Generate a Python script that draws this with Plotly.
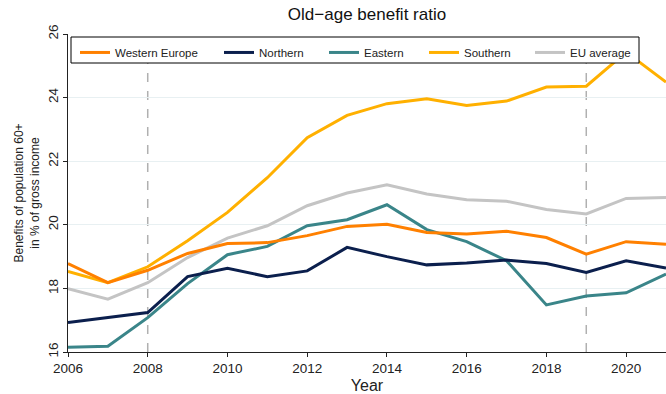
import plotly.graph_objects as go

years = list(range(2006, 2022))
western = [18.78, 18.18, 18.57, 19.10, 19.41, 19.44, 19.66, 19.95, 20.02, 19.76, 19.71, 19.80, 19.60, 19.08, 19.47, 19.39]
northern = [16.93, 17.09, 17.24, 18.37, 18.63, 18.37, 18.55, 19.29, 19.00, 18.74, 18.80, 18.89, 18.78, 18.50, 18.87, 18.64]
eastern = [16.15, 16.18, 17.08, 18.15, 19.06, 19.32, 19.97, 20.16, 20.63, 19.85, 19.47, 18.87, 17.48, 17.76, 17.86, 18.45]
southern = [18.53, 18.18, 18.68, 19.50, 20.39, 21.48, 22.74, 23.44, 23.81, 23.96, 23.75, 23.89, 24.33, 24.36, 25.43, 24.49]
eu_avg = [17.99, 17.66, 18.18, 18.97, 19.58, 19.97, 20.60, 21.00, 21.26, 20.97, 20.79, 20.74, 20.48, 20.34, 20.83, 20.86]

names = ["Western Europe", "Northern", "Eastern", "Southern", "EU average"]
values = [western, northern, eastern, southern, eu_avg]
colors = ["#ff8000", "#0b1f4d", "#3a8589", "#ffb000", "#c4c4c4"]
vlines = [2008, 2019]
x_ticks = list(range(2006, 2021, 2))
y_ticks = list(range(16, 27, 2))

# layout geometry (pixels)
W, H = 666, 394
L, R, T, B = 68, 0, 34, 42
pw, ph = W - L - R, H - T - B
legend_left_px = [75, 219, 324, 424, 530]
box_px = (71, 37, 639, 63)

def px_x(p):
    return (p - L) / pw

def px_y(p):
    return (H - B - p) / ph

font = "Liberation Sans, Arial, sans-serif"
fig = go.Figure()
order = list(range(len(names)))[::-1]  # draw EU average first, Western Europe on top
for i in order:
    lg = "legend" if i == 0 else f"legend{i + 1}"
    fig.add_trace(go.Scatter(x=years, y=values[i], mode="lines", name=names[i],
                             line=dict(color=colors[i], width=3), legend=lg))

for v in vlines:
    fig.add_vline(x=v, line=dict(color="#b0b0b0", width=1.5, dash="dash"), layer="below")

# legend frame
fig.add_shape(type="rect", xref="paper", yref="paper",
              x0=px_x(box_px[0]), x1=px_x(box_px[2]), y0=px_y(box_px[3]), y1=px_y(box_px[1]),
              fillcolor="white", line=dict(color="black", width=1), layer="above")

legend_common = dict(orientation="h", yanchor="top", xanchor="left", y=px_y(box_px[1]) - 0.003,
                     bgcolor="rgba(0,0,0,0)", borderwidth=0,
                     font=dict(size=11.5, color="#222"))
layout_legends = {}
for i in range(len(names)):
    key = "legend" if i == 0 else f"legend{i + 1}"
    layout_legends[key] = dict(legend_common, x=px_x(legend_left_px[i]))

fig.update_layout(
    width=W, height=H,
    margin=dict(l=L, r=R, t=T, b=B),
    paper_bgcolor="white", plot_bgcolor="white",
    font=dict(family=font, size=13, color="#222"),
    title=dict(text="Old\u2212age benefit ratio", x=(L + W) / 2 / W, xanchor="center",
               y=0.965, yanchor="middle", font=dict(size=17, color="#111")),
    showlegend=True,
    **layout_legends,
)
fig.update_xaxes(range=[2006, 2021], tickvals=x_ticks, ticks="outside", ticklen=4,
                 tickcolor="#222", showline=True, linecolor="#222", linewidth=1,
                 showgrid=False, zeroline=False, title=dict(text="Year", standoff=6),
                 tickfont=dict(size=13.5))
fig.update_yaxes(range=[16, 26], tickvals=y_ticks, ticks="outside", ticklen=4,
                 tickcolor="#222", showline=True, linecolor="#222", linewidth=1,
                 showgrid=True, gridcolor="#e8f0f2", gridwidth=1, zeroline=False,
                 tickangle=-90, tickfont=dict(size=13.5),
                 title=dict(text="Benefits of population 60+<br>in % of gross income",
                            standoff=3, font=dict(size=12)))

fig.write_html("out.html")
